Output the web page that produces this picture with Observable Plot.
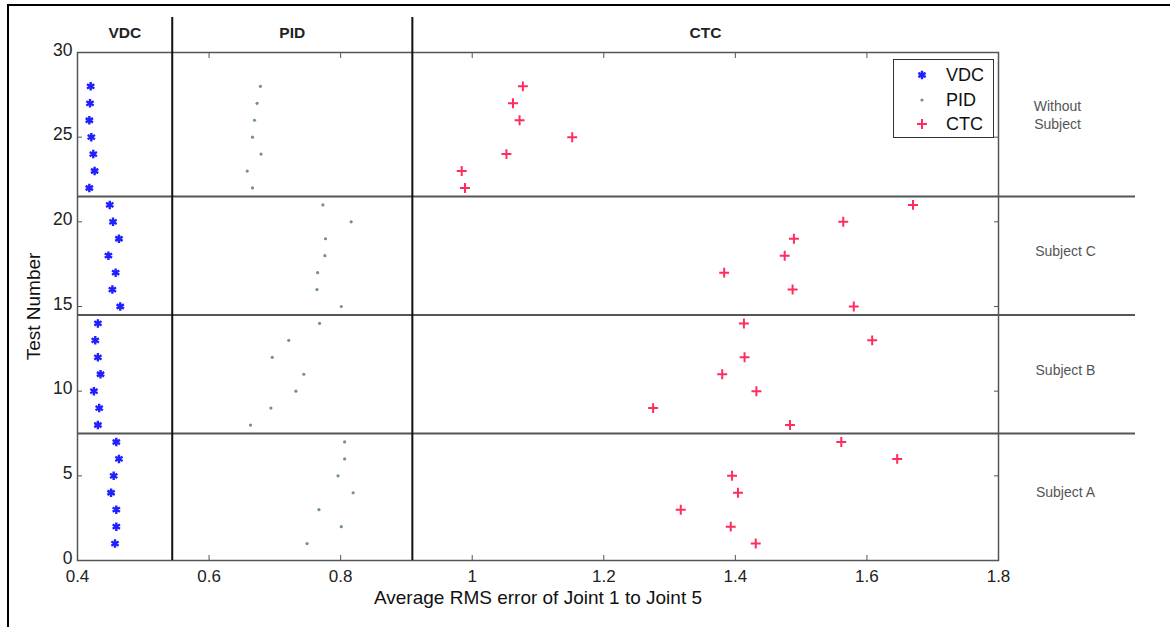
<!DOCTYPE html>
<html><head><meta charset="utf-8">
<script src="https://cdn.jsdelivr.net/npm/d3@7"></script>
<script src="https://cdn.jsdelivr.net/npm/@observablehq/plot@0.6"></script>
<style>
html,body{margin:0;padding:0;background:#fff;}
#wrap{position:relative;width:1170px;height:627px;overflow:hidden;font-family:"Liberation Sans",Arial,sans-serif;}
#topline{position:absolute;left:7px;top:4px;width:1163px;height:2px;background:#000;}
#leftline{position:absolute;left:7px;top:4px;width:2px;height:623px;background:#000;}
#legend{position:absolute;left:893px;top:59px;width:99px;height:77px;border:1px solid #333;background:#fff;}
.lrow{position:absolute;left:0;height:24px;width:99px;}
.lrow svg{position:absolute;left:20px;top:4px;}
.lrow span{position:absolute;left:52px;top:1px;font-size:18px;line-height:22px;color:#111;}
</style></head><body>
<div id="wrap"><div id="chart"></div><div id="topline"></div><div id="leftline"></div><div id="legend"></div></div>
<script>
// Test numbers 1..28
const tests = [1,2,3,4,5,6,7,8,9,10,11,12,13,14,15,16,17,18,19,20,21,22,23,24,25,26,27,28];
// Average RMS error of joint 1 to joint 5, per controller
const vdc = [0.457,0.459,0.459,0.451,0.455,0.463,0.459,0.431,0.433,0.425,0.435,0.431,0.427,0.431,0.465,0.453,0.458,0.447,0.463,0.454,0.449,0.418,0.426,0.424,0.421,0.418,0.419,0.420];
const pid = [0.749,0.801,0.767,0.819,0.796,0.806,0.806,0.663,0.694,0.732,0.744,0.696,0.721,0.768,0.801,0.764,0.765,0.776,0.777,0.816,0.773,0.666,0.658,0.679,0.666,0.669,0.673,0.678];
const ctc = [1.431,1.393,1.317,1.404,1.395,1.646,1.561,1.483,1.275,1.432,1.380,1.414,1.608,1.413,1.580,1.487,1.383,1.475,1.489,1.564,1.670,0.989,0.984,1.052,1.152,1.072,1.062,1.077];
// Tick labels
const xTicks = [0.4,0.6,0.8,1,1.2,1.4,1.6,1.8];
const yTicks = [0,5,10,15,20,25,30];
// Region separators and labels
const methods = ["VDC","PID","CTC"];
const methodBounds = [0.4,0.544,0.909,1.8];
const groups = ["Subject A","Subject B","Subject C"];
const groupTop = "Without\nSubject";
const groupBounds = [0,7.5,14.5,21.5,30];
const xTitle = "Average RMS error of Joint 1 to Joint 5";
const yTitle = "Test Number";

const rows = tests.map((t,i)=>({t, vdc:vdc[i], pid:pid[i], ctc:ctc[i]}));
const methodMid = methods.map((m,i)=>({m, x:(methodBounds[i]+methodBounds[i+1])/2}));
const groupMid = groups.map((g,i)=>({g, y:(groupBounds[i]+groupBounds[i+1])/2}));
const topMid = [{g:groupTop, y:(groupBounds[3]+groupBounds[4])/2}];

const C_VDC = "#1f1fff", C_PID = "#6f9585", C_CTC = "#ff2d5f";
const font = "Liberation Sans, Arial, sans-serif";

const chart = Plot.plot({
  width:1170, height:627,
  marginLeft:77, marginRight:172, marginTop:52, marginBottom:67,
  style:{fontFamily:font, background:"transparent"},
  x:{domain:[0.4,1.8], label:null},
  y:{domain:[0,30], label:null},
  marks:[
    Plot.frame({stroke:"#555", strokeWidth:1.5}),
    Plot.axisX(xTicks, {anchor:"bottom", tickSize:-5, tickPadding:14, tickFormat:d=>String(d), fontSize:17, fill:"#222", stroke:"#555", label:null}),
    Plot.axisX(xTicks, {anchor:"top", tickSize:-5, tickFormat:()=>"", stroke:"#555", label:null}),
    Plot.axisY(yTicks, {anchor:"left", tickSize:-5, tickFormat:()=>"", stroke:"#555", label:null}),
    Plot.axisY(yTicks, {anchor:"left", tickSize:0, tickPadding:5, tickFormat:d=>String(d), fontSize:17.5, fill:"#222", label:null, dy:-2.5}),
    Plot.axisY(yTicks, {anchor:"right", tickSize:-5, tickFormat:()=>"", stroke:"#555", label:null}),
    Plot.ruleY(groupBounds.slice(1,-1), {stroke:"#555", strokeWidth:2, insetRight:-137}),
    Plot.ruleX(methodBounds.slice(1,-1), {stroke:"#111", strokeWidth:2, insetTop:-35}),
    Plot.text(methodMid, {x:"x", text:"m", frameAnchor:"top", lineAnchor:"middle", dy:-19, fontSize:15.5, fontWeight:"bold", fill:"#222"}),
    Plot.text(groupMid, {y:"y", text:"g", frameAnchor:"right", textAnchor:"middle", dx:67, dy:-4, fontSize:14, fill:"#555"}),
    Plot.text(topMid, {y:"y", text:"g", frameAnchor:"right", textAnchor:"middle", dx:59, dy:-10, fontSize:14, fill:"#555", lineHeight:1.3}),
    Plot.text([xTitle], {text:d=>d, frameAnchor:"bottom", lineAnchor:"middle", textAnchor:"middle", dy:37, fontSize:19, fill:"#111"}),
    Plot.text([yTitle], {text:d=>d, frameAnchor:"left", lineAnchor:"middle", textAnchor:"middle", dx:-44, rotate:-90, fontSize:19, fill:"#111"}),
    Plot.dot(rows, {x:"vdc", y:"t", symbol:"asterisk", r:4, stroke:C_VDC, strokeWidth:2.4}),
    Plot.dot(rows, {x:"pid", y:"t", r:1.6, fill:C_PID, stroke:null}),
    Plot.dot(rows, {x:"ctc", y:"t", symbol:"plus", r:3.3, stroke:C_CTC, strokeWidth:2})
  ]
});
document.getElementById("chart").appendChild(chart);

// Legend
const legend = document.getElementById("legend");
const legendItems = [
  {name:methods[0], color:C_VDC, kind:"asterisk"},
  {name:methods[1], color:C_PID, kind:"dot"},
  {name:methods[2], color:C_CTC, kind:"plus"}
];
legendItems.forEach((it,i)=>{
  const row = document.createElement("div");
  row.className = "lrow";
  row.style.top = (3 + i*24.5) + "px";
  const svg = d3.create("svg").attr("width",16).attr("height",16);
  if (it.kind === "dot") {
    svg.append("circle").attr("cx",8).attr("cy",8).attr("r",1.6).attr("fill",it.color);
  } else {
    const sym = it.kind === "plus" ? d3.symbolPlus : d3.symbolAsterisk;
    const rr = it.kind === "plus" ? 3.3 : 4;
    svg.append("path").attr("transform","translate(8,8)")
      .attr("d", d3.symbol(sym, Math.PI*rr*rr)())
      .attr("fill","none").attr("stroke",it.color).attr("stroke-width",it.kind==="plus"?2:2.4);
  }
  row.appendChild(svg.node());
  const sp = document.createElement("span");
  sp.textContent = it.name;
  row.appendChild(sp);
  legend.appendChild(row);
});
</script>
</body></html>
